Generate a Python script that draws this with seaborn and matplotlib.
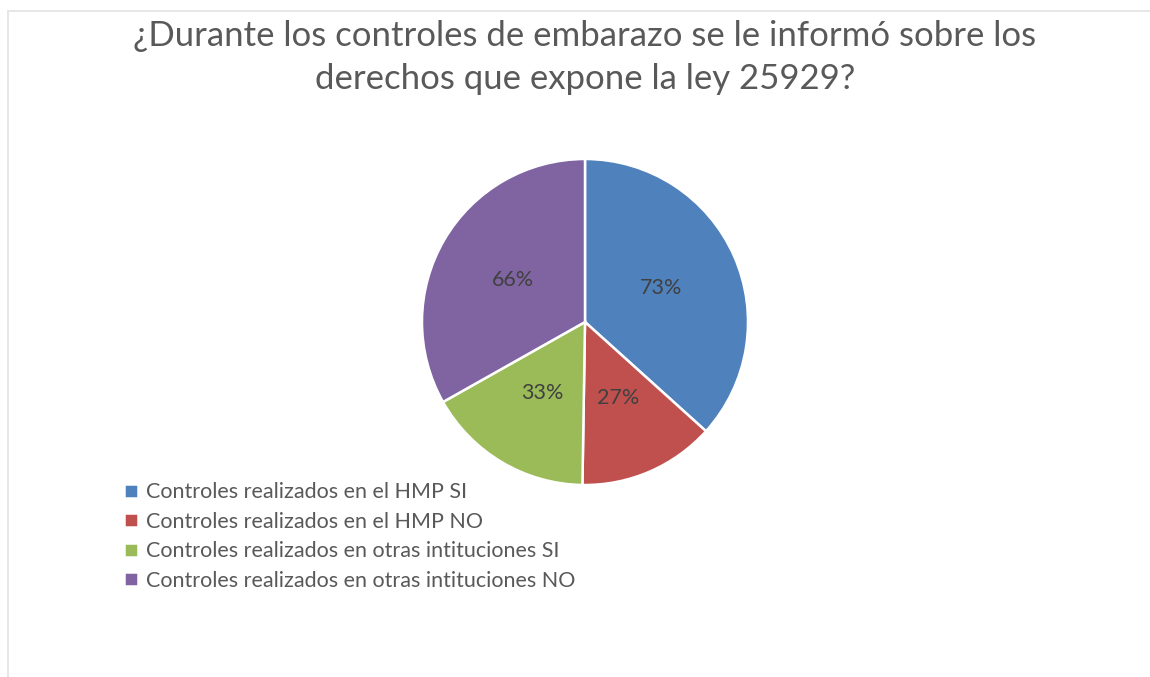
import matplotlib
matplotlib.use("Agg")
import matplotlib.pyplot as plt
from matplotlib.lines import Line2D
import seaborn as sns

sns.set_theme(style="white")
plt.rcParams["font.family"] = ["Lato", "DejaVu Sans"]

# ── Data ─────────────────────────────────────────────────────────────────────
TITLE = "¿Durante los controles de embarazo se le informó sobre los\nderechos que expone la ley 25929?"
categories = [
    "Controles realizados en el HMP SI",
    "Controles realizados en el HMP NO",
    "Controles realizados en otras intituciones SI",
    "Controles realizados en otras intituciones NO",
]
values = [73, 27, 33, 66]
colors = ["#4F81BD", "#C0504D", "#9BBB59", "#8064A2"]

W, H = 1150, 677
fig = plt.figure(figsize=(W / 100, H / 100), dpi=100)
fig.patch.set_facecolor("white")

# thin frame (top + left) like the original chart area
fig.add_artist(Line2D([7.5 / W, 1], [1 - 10.5 / H] * 2, color="#e3e3e3", lw=1.2))
fig.add_artist(Line2D([7.5 / W] * 2, [0, 1 - 10.5 / H], color="#e3e3e3", lw=1.2))

# ── Pie ──────────────────────────────────────────────────────────────────────
cx, cy, r = 585, 322, 163
ax = fig.add_axes([(cx - r) / W, 1 - (cy + r) / H, 2 * r / W, 2 * r / H])
total = sum(values)
wedges, texts, autotexts = ax.pie(
    values, colors=sns.color_palette(colors), startangle=90, counterclock=False,
    autopct=lambda p: f"{round(p * total / 100)}%", pctdistance=0.51,
    wedgeprops={"edgecolor": "white", "linewidth": 1.8},
    textprops={"fontsize": 15.5, "color": "#404040"},
)
ax.set_xlim(-1, 1)
ax.set_ylim(-1, 1)
ax.set_aspect("equal")
ax.axis("off")

fig.text(0.5087, 1 - 20 / H, TITLE, ha="center", va="top", fontsize=25,
         color="#595959", linespacing=1.42)

fig.legend(wedges, categories, loc="upper left", bbox_to_anchor=(105 / W, 1 - 463 / H),
           frameon=False, fontsize=15.5, handlelength=0.65, handleheight=0.65,
           handletextpad=0.35, labelspacing=0.44, labelcolor="#595959")

plt.savefig("out.png", dpi=100)
